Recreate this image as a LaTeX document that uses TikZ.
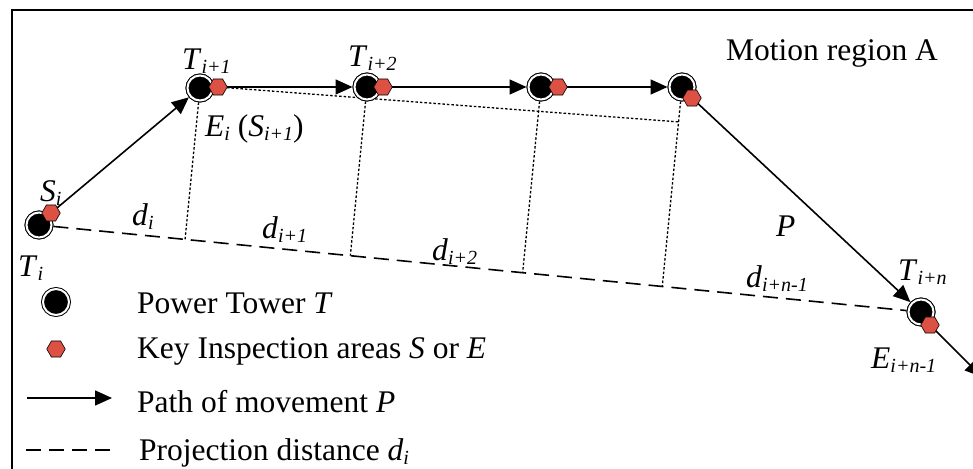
\documentclass[tikz,border=0pt]{standalone}
\usepackage{fontspec}
\setmainfont{Liberation Serif}
\usetikzlibrary{arrows.meta,shapes.geometric,calc}
\definecolor{hexred}{RGB}{221,80,68}
\newcommand\mysub[1]{\raisebox{-4pt}{\fontsize{20}{20}\selectfont\itshape #1}}
\begin{document}
\begin{tikzpicture}[x=1pt,y=-1pt,
  tower/.style={circle,fill=black,draw=black,double=white,double distance=2pt,line width=1pt,minimum size=25pt,inner sep=0pt,outer sep=2pt},
  hexa/.style={regular polygon,regular polygon sides=6,minimum size=18.5pt,inner sep=0pt,fill=hexred,draw=black,line width=0.6pt},
  pathline/.style={line width=1.6pt,-{Triangle[length=17pt,width=15pt]}},
  dashline/.style={line width=1.6pt,dash pattern=on 15pt off 8pt},
  dotline/.style={line width=1.3pt,dash pattern=on 2.5pt off 2pt},
  lbl/.style={inner sep=0pt,font=\fontsize{31.5}{36}\selectfont},
  frameline/.style={line width=1.6pt}]
\useasboundingbox (0,0) rectangle (973,468);
\clip (0,0) rectangle (973,468);
% frame
\draw[frameline] (12,1000) -- (12,10) -- (1200,10);
% towers (positions)
\node[tower] (Ti) at (39,225) {};
\node[tower] (T1) at (200,88) {};
\node[tower] (T2) at (367,87) {};
\node[tower] (T3) at (541,87) {};
\node[tower] (T4) at (682,87) {};
\node[tower] (Tn) at (921,312) {};
% projection feet
\coordinate (f1) at ($(Ti.center)!(T1.center)!(Tn.center)$);
\coordinate (f2) at ($(Ti.center)!(T2.center)!(Tn.center)$);
\coordinate (f3) at ($(Ti.center)!(T3.center)!(Tn.center)$);
\coordinate (f4) at ($(Ti.center)!(T4.center)!(Tn.center)$);
\coordinate (q) at ($(T4.center)!0.175!(f4)$);
\coordinate (hs) at (51,213);
\coordinate (h1) at (218,87);
\coordinate (h2) at (383,87);
\coordinate (h3) at (558,87);
\coordinate (h4) at (692,98);
\coordinate (hn) at (930,325);
\coordinate (out) at (982,377);
% dashed and dotted lines
\draw[dashline] (Ti) -- (Tn);
\draw[dotline] (T1) -- (f1);
\draw[dotline] (T2) -- (f2);
\draw[dotline] (T3) -- (f3);
\draw[dotline] (T4) -- (f4);
\draw[dotline] (h1) -- (q);
% redraw towers on top
\foreach \t in {Ti,T1,T2,T3,T4,Tn} {\node[tower] at (\t.center) {};}
% path arrows
\draw[pathline] (hs) -- (T1);
\draw[pathline] (h1) -- (T2);
\draw[pathline] (h2) -- (T3);
\draw[pathline] (h3) -- (T4);
\draw[pathline] (h4) -- (Tn);
\draw[pathline] (hn) -- (out);
% inspection areas
\node[hexa] (Hs) at (hs) {};
\node[hexa] (H1) at (h1) {};
\node[hexa] (H2) at (h2) {};
\node[hexa] (H3) at (h3) {};
\node[hexa] (H4) at (h4) {};
\node[hexa] (Hn) at (hn) {};
% labels
\node[lbl,anchor=base west] (lSi) at (40,201) {\textit{S}\mysub{i}};
\node[lbl,anchor=base west] (lTi) at (18,276) {\textit{T}\mysub{i}};
\node[lbl,anchor=base west] (lT1) at (182,70) {\textit{T}\mysub{i+1}};
\node[lbl,anchor=base west] (lE1) at (205,136) {\textit{E}\mysub{i} (\textit{S}\mysub{i+1})};
\node[lbl,anchor=base west] (lT2) at (348,67) {\textit{T}\mysub{i+2}};
\node[lbl,anchor=base west] (ld0) at (132,225) {\textit{d}\mysub{i}};
\node[lbl,anchor=base west] (ld1) at (262,238) {\textit{d}\mysub{i+1}};
\node[lbl,anchor=base west] (ld2) at (432,260) {\textit{d}\mysub{i+2}};
\node[lbl,anchor=base west] (ldn) at (746,287) {\textit{d}\mysub{i+n-1}};
\node[lbl,anchor=base west] (lP) at (776,236) {\textit{P}};
\node[lbl,anchor=base west] (lTn) at (898,280) {\textit{T}\mysub{i+n}};
\node[lbl,anchor=base west] (lEn) at (871,368) {\textit{E}\mysub{i+n-1}};
\node[lbl,anchor=base west] (lA) at (726,61) {Motion region A};
% legend
\node[tower,minimum size=26pt] (legT) at (56,302) {};
\node[hexa] (legH) at (56,349) {};
\coordinate (la1) at (27,398);
\coordinate (la2) at (112,398);
\draw[pathline] (la1) -- (la2);
\coordinate (ld1a) at (26,450);
\coordinate (ld2a) at (113,450);
\draw[dashline] (ld1a) -- (ld2a);
\node[lbl,anchor=base west] (t1) at (137,313) {Power Tower \textit{T}};
\node[lbl,anchor=base west] (t2) at (137,358) {Key Inspection areas \textit{S} or \textit{E}};
\node[lbl,anchor=base west] (t3) at (137,412) {Path of movement \textit{P}};
\node[lbl,anchor=base west] (t4) at (139,460) {Projection distance \textit{d}\mysub{i}};
\end{tikzpicture}
\end{document}
